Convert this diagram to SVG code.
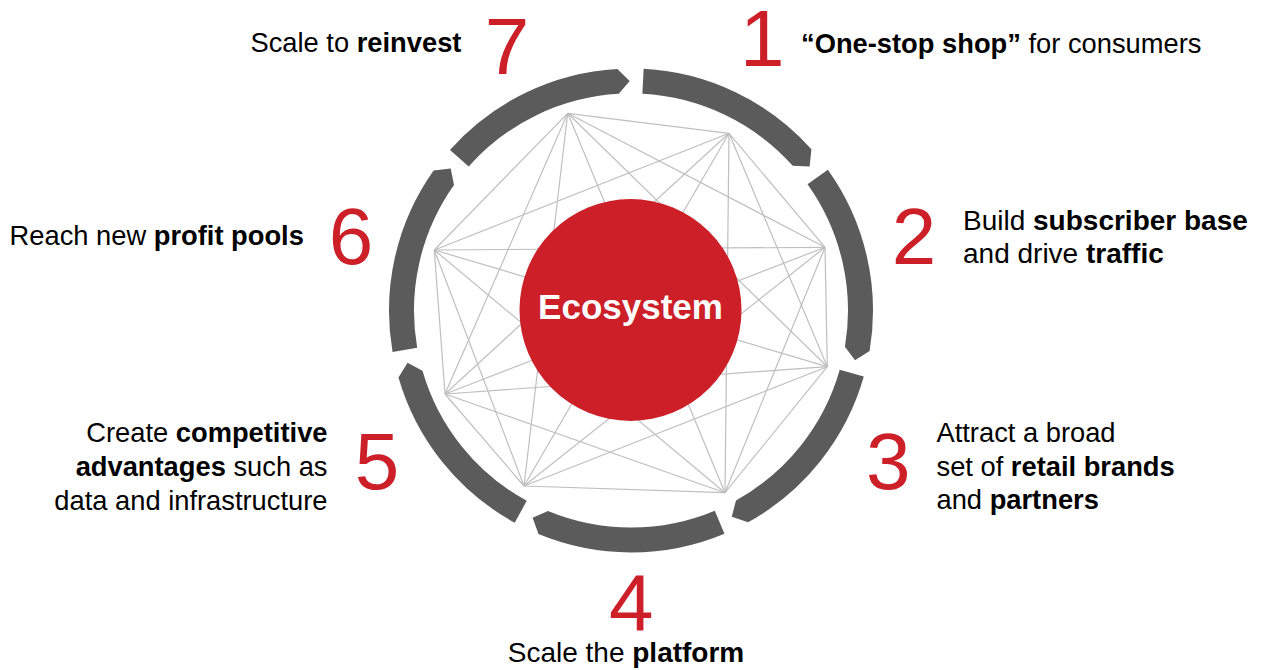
<svg xmlns="http://www.w3.org/2000/svg" width="1261" height="670" viewBox="0 0 1261 670">
<style>
.seg{fill:#5B5B5B;}
.web line{stroke:#BFBFBF;stroke-width:1.2;}
.num{font-family:"Liberation Sans",Arial,sans-serif;font-size:80px;fill:#CC1F28;}
.lbl{font-family:"Liberation Sans",Arial,sans-serif;font-size:27.3px;fill:#000;}
.lg{font-size:28px;}
.b{font-weight:bold;}
</style>
<rect width="1261" height="670" fill="#fff"/>
<g id="connectors" class="web">
<line x1="567.7" y1="113.3" x2="729" y2="133.3"/>
<line x1="567.7" y1="113.3" x2="825" y2="247.3"/>
<line x1="567.7" y1="113.3" x2="827.3" y2="366.7"/>
<line x1="567.7" y1="113.3" x2="725" y2="492.7"/>
<line x1="567.7" y1="113.3" x2="524" y2="486"/>
<line x1="567.7" y1="113.3" x2="445" y2="394"/>
<line x1="567.7" y1="113.3" x2="434.3" y2="250"/>
<line x1="729" y1="133.3" x2="825" y2="247.3"/>
<line x1="729" y1="133.3" x2="827.3" y2="366.7"/>
<line x1="729" y1="133.3" x2="725" y2="492.7"/>
<line x1="729" y1="133.3" x2="524" y2="486"/>
<line x1="729" y1="133.3" x2="445" y2="394"/>
<line x1="729" y1="133.3" x2="434.3" y2="250"/>
<line x1="825" y1="247.3" x2="827.3" y2="366.7"/>
<line x1="825" y1="247.3" x2="725" y2="492.7"/>
<line x1="825" y1="247.3" x2="524" y2="486"/>
<line x1="825" y1="247.3" x2="445" y2="394"/>
<line x1="825" y1="247.3" x2="434.3" y2="250"/>
<line x1="827.3" y1="366.7" x2="725" y2="492.7"/>
<line x1="827.3" y1="366.7" x2="524" y2="486"/>
<line x1="827.3" y1="366.7" x2="445" y2="394"/>
<line x1="827.3" y1="366.7" x2="434.3" y2="250"/>
<line x1="725" y1="492.7" x2="524" y2="486"/>
<line x1="725" y1="492.7" x2="445" y2="394"/>
<line x1="725" y1="492.7" x2="434.3" y2="250"/>
<line x1="524" y1="486" x2="445" y2="394"/>
<line x1="524" y1="486" x2="434.3" y2="250"/>
<line x1="445" y1="394" x2="434.3" y2="250"/>
</g>
<g id="ecosystem">
<circle cx="630.5" cy="310" r="111" fill="#CC1F28"/>
<text x="630.5" y="318.5" text-anchor="middle" font-family="'Liberation Sans',Arial,sans-serif" font-size="35" font-weight="bold" fill="#fff">Ecosystem</text>
</g>
<g id="step-1">
<path class="seg" d="M643.67,68.83 A242,242 0 0 1 811.41,149.20 L809.61,166.38 L792.77,165.86 A217,217 0 0 0 642.36,93.80 Z"/>
<text class="num" x="740" y="65.5" font-size="78">1</text>
<text class="lbl" x="801" y="53.3"><tspan class="b">“One-stop shop”</tspan> for consumers</text>
</g>
<g id="step-2">
<path class="seg" d="M827.85,169.73 A242,242 0 0 1 869.59,350.98 L855.04,360.28 L844.94,346.80 A217,217 0 0 0 807.51,184.27 Z"/>
<text class="num" x="891.7" y="264">2</text>
<text class="lbl lg" x="963" y="230">Build <tspan class="b">subscriber base</tspan></text>
<text class="lbl lg" x="963" y="262.7">and drive <tspan class="b">traffic</tspan></text>
</g>
<g id="step-3">
<path class="seg" d="M863.79,376.62 A242,242 0 0 1 748.11,522.27 L731.76,516.70 L736.01,500.40 A217,217 0 0 0 839.74,369.79 Z"/>
<text class="num" x="866" y="489">3</text>
<text class="lbl" x="936.5" y="442">Attract a broad</text>
<text class="lbl" x="936.5" y="475.5">set of <tspan class="b">retail brands</tspan></text>
<text class="lbl" x="936.5" y="509">and <tspan class="b">partners</tspan></text>
</g>
<g id="step-4">
<path class="seg" d="M724.44,533.73 A242,242 0 0 1 538.47,534.11 L532.61,517.84 L548.03,511.01 A217,217 0 0 0 714.78,510.67 Z"/>
<text class="num" x="609" y="630">4</text>
<text class="lbl lg" x="626" y="661.7" text-anchor="middle">Scale the <tspan class="b">platform</tspan></text>
</g>
<g id="step-5">
<path class="seg" d="M514.74,522.74 A242,242 0 0 1 398.47,377.55 L407.55,362.85 L422.49,370.63 A217,217 0 0 0 526.75,500.82 Z"/>
<text class="num" x="354.7" y="489">5</text>
<text class="lbl" x="327.5" y="442" text-anchor="end">Create <tspan class="b">competitive</tspan></text>
<text class="lbl" x="327.5" y="476" text-anchor="end"><tspan class="b">advantages</tspan> such as</text>
<text class="lbl" x="327.5" y="510" text-anchor="end">data and infrastructure</text>
</g>
<g id="step-6">
<path class="seg" d="M392.57,351.93 A242,242 0 0 1 433.61,170.50 L450.72,168.48 L454.00,184.96 A217,217 0 0 0 417.20,347.65 Z"/>
<text class="num" x="328.7" y="264">6</text>
<text class="lbl" x="9.6" y="245">Reach new <tspan class="b">profit pools</tspan></text>
</g>
<g id="step-7">
<path class="seg" d="M449.98,149.88 A242,242 0 0 1 617.37,68.88 L629.68,81.00 L618.78,93.84 A217,217 0 0 0 468.68,166.48 Z"/>
<text class="num" x="484.7" y="74" font-size="88">7</text>
<text class="lbl" x="250.5" y="52.3">Scale to <tspan class="b">reinvest</tspan></text>
</g>
</svg>
